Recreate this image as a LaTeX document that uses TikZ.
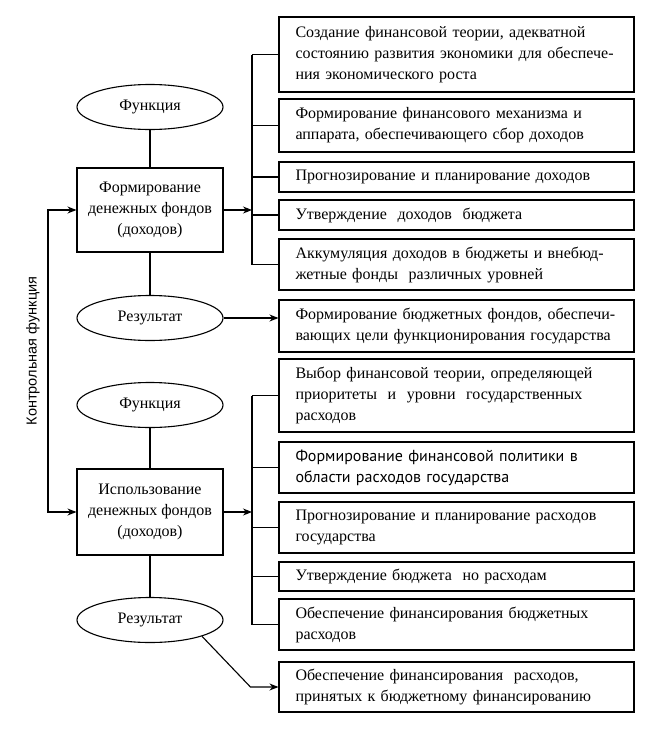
\documentclass[tikz,border=0pt]{standalone}
\usepackage{fontspec}
\setmainfont{Liberation Serif}
\newfontfamily\labelfont{Liberation Sans}
\newfontfamily\altfont{PT Sans}
\usetikzlibrary{arrows.meta,positioning,shapes.geometric}

\begin{document}
\begin{tikzpicture}[x=1pt, y=-1pt, line width=1.1pt,
    font=\fontsize{16}{21}\selectfont,
    oval/.style={ellipse, draw, minimum width=146pt, minimum height=45pt, inner sep=0pt},
    fundbox/.style={rectangle, draw, minimum width=146pt, minimum height=84pt, align=center, inner sep=0pt},
    itembox/.style={rectangle, draw, text width=322pt, inner xsep=16.5pt, inner ysep=0pt, align=left},
    arr/.style={-{Stealth[length=9pt,width=7pt]}},
    twoarr/.style={{Stealth[length=9pt,width=7pt]}-{Stealth[length=9pt,width=7pt]}}]
    \useasboundingbox (0,0) rectangle (660,734);

    % left column
    \node[oval] (fun1) at (150,107) {Функция};
    \node[fundbox] (form) at (150,210) {Формирование\\денежных фондов\\(доходов)};
    \node[oval] (res1) at (150,318) {Результат};
    \node[oval] (fun2) at (150,405) {Функция};
    \node[fundbox, minimum height=86pt] (use) at (150,512) {Использование\\денежных фондов\\(доходов)};
    \node[oval] (res2) at (150,620) {Результат};
    \node[rotate=90, font=\labelfont\fontsize{14.5}{16}\selectfont] (ctltext) at (33,351) {Контрольная функция};

    % revenue boxes
    \node[itembox, minimum height=75pt] (f1) at (456.5,54.5) {Создание финансовой теории, адекватной\\состоянию развития экономики для обеспече-\\ния экономического роста};
    \node[itembox, minimum height=53pt] (f2) at (456.5,125.5) {Формирование финансового механизма и\\аппарата, обеспечивающего сбор доходов};
    \node[itembox, minimum height=30pt] (f3) at (456.5,177) {Прогнозирование и планирование доходов};
    \node[itembox, minimum height=30pt] (f4) at (456.5,215) {Утверждение\ \ доходов\ \ бюджета};
    \node[itembox, minimum height=51pt] (f5) at (456.5,264.5) {Аккумуляция доходов в бюджеты и внебюд-\\жетные фонды\ \ различных уровней};
    \node[itembox, minimum height=52pt] (f6) at (456.5,326) {Формирование бюджетных фондов, обеспечи-\\вающих цели функционирования государства};

    % expenditure boxes
    \node[itembox, minimum height=73pt] (u1) at (456.5,395.5) {Выбор финансовой теории, определяющей\\приоритеты\ \ и\ \ уровни\ \ государственных\\расходов};
    \node[itembox, minimum height=51pt, font=\altfont\fontsize{16}{21}\selectfont] (u2) at (456.5,467.5) {Формирование финансовой политики в\\области расходов государства};
    \node[itembox, minimum height=51pt] (u3) at (456.5,527.5) {Прогнозирование и планирование расходов\\государства};
    \node[itembox, minimum height=29pt] (u4) at (456.5,576.5) {Утверждение бюджета\ \ но расходам};
    \node[itembox, minimum height=51pt] (u5) at (456.5,624.5) {Обеспечение финансирования бюджетных\\расходов};
    \node[itembox, minimum height=50pt] (u6) at (456.5,687) {Обеспечение финансирования\ \ расходов,\\принятых к бюджетному финансированию};

    % connectors
    \coordinate (bus) at (252,0);
    \coordinate (ctl) at (48,0);
    \draw (fun1) -- (form);
    \draw (form) -- (res1);
    \draw (fun2) -- (use);
    \draw (use) -- (res2);
    \draw (f1.west -| bus) -- (f5.west -| bus);
    \draw (u1.west -| bus) -- (u5.west -| bus);
    \foreach \b in {f1,f2,f3,f4,f5,u1,u2,u3,u4,u5}
        \draw (\b.west -| bus) -- (\b.west);
    \draw[arr] (form.east) -- (form.east -| bus);
    \draw[arr] (use.east) -- (use.east -| bus);
    \draw[arr] (res1.east) -- (res1.east -| f6.west);
    \draw[arr] (res2.south east) -- ([xshift=-28pt]u6.west) -- (u6.west);
    \draw[twoarr] (form.west) -- (form.west -| ctl) -- (use.west -| ctl) -- (use.west);
\end{tikzpicture}
\end{document}
